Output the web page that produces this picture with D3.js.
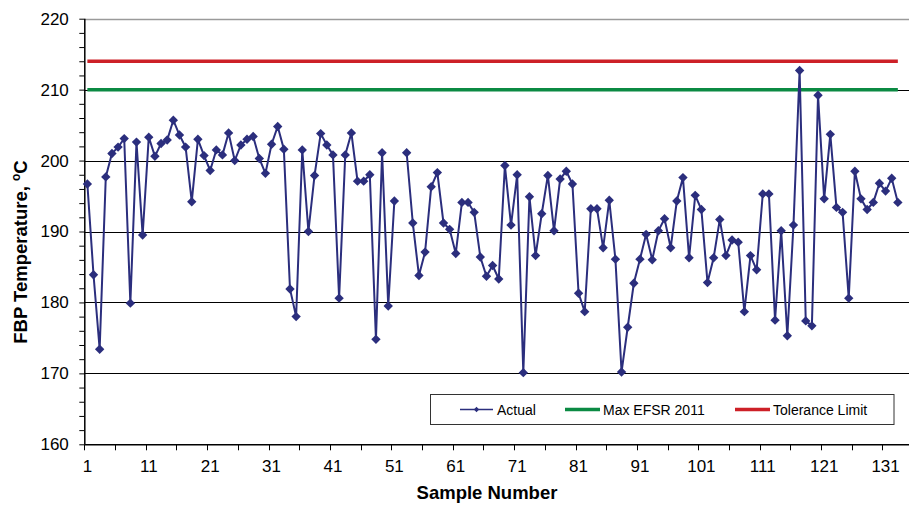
<!DOCTYPE html>
<html>
<head>
<meta charset="utf-8">
<script src="https://cdn.jsdelivr.net/npm/d3@7"></script>
<style>
  html, body { margin: 0; padding: 0; background: #fff; }
  svg { display: block; font-family: "Liberation Sans", Arial, sans-serif; }
</style>
</head>
<body>
<svg id="chart" width="909" height="506"></svg>
<script>
// ---- data ----
const sampleNumbers = d3.range(1, 134);
const actualValues = [
  196.7, 183.9, 173.4, 197.7, 201.0, 201.9, 203.1, 179.9, 202.6, 189.5,
  203.3, 200.6, 202.4, 202.9, 205.7, 203.6, 201.9, 194.2, 203.0, 200.7,
  198.6, 201.5, 200.8, 203.9, 200.0, 202.2, 203.0, 203.4, 200.3, 198.2,
  202.3, 204.8, 201.6, 181.9, 178.0, 201.5, 190.0, 197.9, 203.8, 202.2,
  200.8, 180.6, 200.8, 203.9, 197.1, 197.1, 198.0, 174.8, 201.1, 179.5,
  194.3, null, 201.1, 191.2, 183.8, 187.1, 196.3, 198.3, 191.2, 190.3,
  186.9, 194.1, 194.1, 192.7, 186.4, 183.7, 185.2, 183.3, 199.3, 190.9,
  198.0, 170.1, 194.9, 186.6, 192.5, 197.9, 190.1, 197.4, 198.5, 196.7,
  181.3, 178.7, 193.2, 193.2, 187.7, 194.4, 186.1, 170.2, 176.5, 182.7,
  186.1, 189.6, 186.0, 190.1, 191.8, 187.7, 194.3, 197.6, 186.3, 195.1,
  193.1, 182.8, 186.3, 191.7, 186.6, 188.8, 188.5, 178.7, 186.6, 184.6,
  195.3, 195.3, 177.5, 190.1, 175.3, 190.9, 212.7, 177.4, 176.7, 209.2,
  194.6, 203.7, 193.4, 192.7, 180.6, 198.5, 194.6, 193.1, 194.1, 196.8,
  195.7, 197.5, 194.1
];
const maxEfsr2011 = 210;
const toleranceLimit = 214;
const xTickLabels = [1, 11, 21, 31, 41, 51, 61, 71, 81, 91, 101, 111, 121, 131];
const yTickLabels = [160, 170, 180, 190, 200, 210, 220];
const seriesNames = ["Actual", "Max EFSR 2011", "Tolerance Limit"];
const seriesColors = ["#2B2E7D", "#0B8A43", "#CD2027"];

// ---- layout ----
const W = 909, H = 506;
const pLeft = 84.3, pTop = 18.7, pBottom = 444.3, step = 6.14;
const plotRight = W + 10;

const svg = d3.select("#chart");

const x = d3.scaleBand()
  .domain(sampleNumbers)
  .range([pLeft, pLeft + sampleNumbers.length * step])
  .paddingInner(0).paddingOuter(0);
const cx = d => x(d) + x.bandwidth() / 2;

const y = d3.scaleLinear().domain([160, 220]).range([pBottom, pTop]);

// gridlines
const gridVals = [170, 180, 190, 200, 210];
svg.append("g").selectAll("line").data(gridVals).join("line")
  .attr("x1", pLeft).attr("x2", plotRight)
  .attr("y1", d => Math.round(y(d)) + 0.5).attr("y2", d => Math.round(y(d)) + 0.5)
  .attr("stroke", "#000").attr("stroke-width", 1);

// top border
svg.append("line")
  .attr("x1", pLeft).attr("x2", plotRight)
  .attr("y1", Math.round(y(220)) + 0.5).attr("y2", Math.round(y(220)) + 0.5)
  .attr("stroke", "#9a9a9a").attr("stroke-width", 1.3);

// y axis
const yAxis = d3.axisLeft(y)
  .tickValues(d3.range(160, 221, 2))
  .tickSize(5)
  .tickFormat(d => yTickLabels.includes(d) ? d : "");
const gy = svg.append("g").attr("transform", `translate(${pLeft},0)`).call(yAxis);
gy.select(".domain").attr("stroke", "#000").attr("d", `M0.5,${pTop}V${pBottom}`).attr("stroke-width", 1.5);
gy.selectAll(".tick line").attr("stroke", "#000");
gy.selectAll(".tick text").attr("font-size", 17).attr("fill", "#000").attr("x", -15.5)
  .attr("font-family", "Liberation Sans, Arial, sans-serif");

// x axis line
svg.append("line")
  .attr("x1", pLeft).attr("x2", plotRight)
  .attr("y1", pBottom + 0.5).attr("y2", pBottom + 0.5)
  .attr("stroke", "#000").attr("stroke-width", 1.5);

// x ticks at category boundaries every 5
const tickCats = sampleNumbers.filter(d => (d - 1) % 5 === 0);
svg.append("g").selectAll("line").data(tickCats).join("line")
  .attr("x1", d => Math.round(x(d)) + 0.5).attr("x2", d => Math.round(x(d)) + 0.5)
  .attr("y1", pBottom).attr("y2", pBottom + 6)
  .attr("stroke", "#000").attr("stroke-width", 1);

// x labels at category centers
svg.append("g").selectAll("text").data(xTickLabels).join("text")
  .attr("x", d => cx(d)).attr("y", 472)
  .attr("text-anchor", "middle").attr("font-size", 17).attr("fill", "#000")
  .text(d => d);

// axis titles
svg.append("text")
  .attr("x", 487).attr("y", 498.5)
  .attr("text-anchor", "middle").attr("font-size", 18.5).attr("font-weight", "bold")
  .text("Sample Number");

const yt = svg.append("text")
  .attr("transform", "translate(27,252) rotate(-90)")
  .attr("text-anchor", "middle").attr("font-size", 18.5).attr("font-weight", "bold");
yt.append("tspan").text("FBP Temperature, ");
yt.append("tspan").attr("font-size", 12).attr("dy", -7).text("o");
yt.append("tspan").attr("dy", 7).text("C");

// limit lines (as series across all samples)
const first = sampleNumbers[0], last = sampleNumbers[sampleNumbers.length - 1];
svg.append("line")
  .attr("x1", cx(first)).attr("x2", cx(last))
  .attr("y1", y(maxEfsr2011)).attr("y2", y(maxEfsr2011))
  .attr("stroke", seriesColors[1]).attr("stroke-width", 3.5);
svg.append("line")
  .attr("x1", cx(first)).attr("x2", cx(last))
  .attr("y1", y(toleranceLimit)).attr("y2", y(toleranceLimit))
  .attr("stroke", seriesColors[2]).attr("stroke-width", 3.5);

// actual series
const pts = sampleNumbers.map((s, i) => ({ s, v: actualValues[i] }));
const line = d3.line()
  .defined(d => d.v != null)
  .x(d => cx(d.s)).y(d => y(d.v));
svg.append("path").datum(pts)
  .attr("d", line).attr("fill", "none")
  .attr("stroke", seriesColors[0]).attr("stroke-width", 2);

const diamond = d3.symbol(d3.symbolSquare, 44);
svg.append("g").selectAll("path").data(pts.filter(d => d.v != null)).join("path")
  .attr("d", diamond)
  .attr("transform", d => `translate(${cx(d.s)},${y(d.v)}) rotate(45)`)
  .attr("fill", seriesColors[0]);

// legend
const lg = svg.append("g");
lg.append("rect").attr("x", 430.5).attr("y", 394.5).attr("width", 463.5).attr("height", 30)
  .attr("fill", "#fff").attr("stroke", "#333").attr("stroke-width", 1);
const legendItems = [
  { name: seriesNames[0], color: seriesColors[0], x1: 460, x2: 493, tx: 497, marker: true, w: 1.5 },
  { name: seriesNames[1], color: seriesColors[1], x1: 565, x2: 600, tx: 603, marker: false, w: 3.5 },
  { name: seriesNames[2], color: seriesColors[2], x1: 735, x2: 770, tx: 773, marker: false, w: 3.5 }
];
legendItems.forEach(it => {
  lg.append("line").attr("x1", it.x1).attr("x2", it.x2).attr("y1", 409.5).attr("y2", 409.5)
    .attr("stroke", it.color).attr("stroke-width", it.w);
  if (it.marker) {
    lg.append("path").attr("d", d3.symbol(d3.symbolSquare, 14))
      .attr("transform", `translate(${(it.x1 + it.x2) / 2},409.5) rotate(45)`)
      .attr("fill", it.color);
  }
  lg.append("text").attr("x", it.tx).attr("y", 414.5).attr("font-size", 14).attr("fill", "#000")
    .text(it.name);
});
</script>
</body>
</html>
